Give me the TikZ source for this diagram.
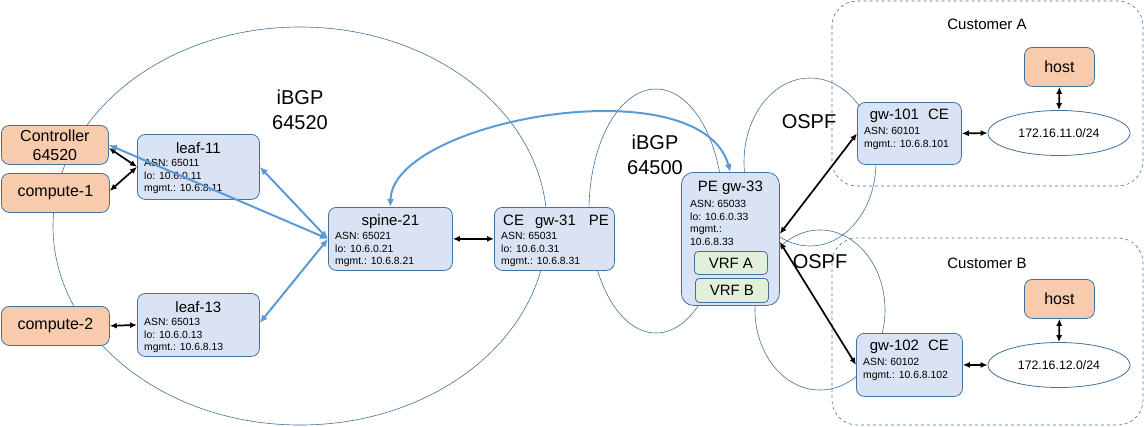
\documentclass[tikz,border=0pt]{standalone}
\usepackage{fontspec}
\setmainfont{Liberation Sans}
\usetikzlibrary{arrows.meta,calc,shapes.geometric}
\definecolor{bord}{RGB}{65,113,156}
\definecolor{bluefill}{RGB}{218,227,243}
\definecolor{orfill}{RGB}{248,203,173}
\definecolor{grfill}{RGB}{226,240,217}
\definecolor{blueln}{RGB}{91,155,213}
\begin{document}
\begin{tikzpicture}[x=1pt,y=-1pt,
 box/.style={draw=bord,line width=0.8pt,rounded corners=8pt,inner sep=0pt,anchor=north west},
 dev/.style={box,fill=bluefill},
 ext/.style={box,fill=orfill,align=center,font=\fontsize{16}{19}\selectfont},
 vrf/.style={box,fill=grfill,rounded corners=4pt,font=\fontsize{15}{18}\selectfont},
 ttl/.style={inner sep=0pt,font=\fontsize{15}{18}\selectfont},
 info/.style={inner sep=0pt,anchor=north west,align=left,font=\fontsize{10.4}{12.6}\selectfont},
 area/.style={draw=bord,line width=0.6pt},
 lan/.style={ellipse,draw=bord,line width=0.8pt,fill=white,minimum width=142pt,minimum height=45pt,inner sep=0pt,font=\fontsize{12.3}{15}\selectfont},
 big/.style={inner sep=0pt,align=center,font=\fontsize{20}{25}\selectfont},
 cust/.style={inner sep=0pt,font=\fontsize{15}{18}\selectfont},
 biarr/.style={{Latex[length=7pt,width=6pt]}-{Latex[length=7pt,width=6pt]},line width=1.7pt},
 bluearr/.style={{Latex[length=8pt,width=7pt]}-{Latex[length=8pt,width=7pt]},line width=2pt,draw=blueln},
]
\useasboundingbox (0,0) rectangle (1144,426);

% areas
\draw[area] (300,226) ellipse [x radius=247, y radius=199];
\draw[area] (656,211) ellipse [x radius=67, y radius=122];
\draw[area] (810,162) ellipse [x radius=66, y radius=84];
\draw[area] (820,310) ellipse [x radius=65, y radius=80];
\draw[area,dashed,rounded corners=25pt] (832,1) rectangle (1143,186);
\draw[area,dashed,rounded corners=25pt] (832,238) rectangle (1143,425);

% labels
\node[big] (l64520) at (300,110) {iBGP\\64520};
\node[big] (l64500) at (655,155) {iBGP\\64500};
\node[big] (ospfa) at (809,122) {OSPF};
\node[big] (ospfb) at (820,262) {OSPF};
\node[cust] (custa) at (987,24) {Customer A};
\node[cust] (custb) at (987,263) {Customer B};

% external boxes
\node[ext,minimum width=107pt,minimum height=39pt] (ctrl) at (1,125) {Controller\\64520};
\node[ext,minimum width=108pt,minimum height=39pt] (comp1) at (1,173) {compute-1};
\node[ext,minimum width=108pt,minimum height=39pt] (comp2) at (1,306) {compute-2};
\node[ext,minimum width=70pt,minimum height=39pt] (hosta) at (1024,47) {host};
\node[ext,minimum width=70pt,minimum height=39pt] (hostb) at (1024,279) {host};

% devices
\node[dev,minimum width=122pt,minimum height=65pt] (leaf11) at (137,134) {};
\node[ttl] (t11) at ($(leaf11.north)+(0,14)$) {leaf-11};
\node[info] (i11) at ($(leaf11.north west)+(7,25)$) {ASN: 65011\\lo: 10.6.0.11\\mgmt.: 10.6.8.11};

\node[dev,minimum width=122pt,minimum height=63pt] (leaf13) at (137,293) {};
\node[ttl] (t13) at ($(leaf13.north)+(0,14)$) {leaf-13};
\node[info] (i13) at ($(leaf13.north west)+(7,25)$) {ASN: 65013\\lo: 10.6.0.13\\mgmt.: 10.6.8.13};

\node[dev,minimum width=124pt,minimum height=63pt] (spine) at (328,207) {};
\node[ttl] (t21) at ($(spine.north)+(0,15)$) {spine-21};
\node[info] (i21) at ($(spine.north west)+(7,25)$) {ASN: 65021\\lo: 10.6.0.21\\mgmt.: 10.6.8.21};

\node[dev,minimum width=120pt,minimum height=63pt] (gw31) at (494,207) {};
\node[ttl,anchor=west] (t31) at ($(gw31.north west)+(9,15)$) {CE\hspace{11pt}gw-31\hspace{13pt}PE};
\node[info] (i31) at ($(gw31.north west)+(7,25)$) {ASN: 65031\\lo: 10.6.0.31\\mgmt.: 10.6.8.31};

\node[dev,rounded corners=12pt,minimum width=98pt,minimum height=133pt] (gw33) at (681,172) {};
\node[ttl] (t33) at ($(gw33.north)+(0,16)$) {PE gw-33};
\node[info] (i33) at ($(gw33.north west)+(9,28)$) {ASN: 65033\\lo: 10.6.0.33\\mgmt.:\\10.6.8.33};
\node[vrf,minimum width=73pt,minimum height=23pt] (vrfa) at (694,251) {VRF A};
\node[vrf,minimum width=73pt,minimum height=24pt] (vrfb) at (695,278) {VRF B};

\node[dev,minimum width=104pt,minimum height=62pt] (gw101) at (857,102) {};
\node[ttl] (t101) at ($(gw101.north)+(0,14)$) {gw-101\hspace{9pt}CE};
\node[info] (i101) at ($(gw101.north west)+(7,25)$) {ASN: 60101\\mgmt.: 10.6.8.101};

\node[dev,minimum width=106pt,minimum height=63pt] (gw102) at (856,333) {};
\node[ttl] (t102) at ($(gw102.north)+(0,14)$) {gw-102\hspace{9pt}CE};
\node[info] (i102) at ($(gw102.north west)+(7,25)$) {ASN: 60102\\mgmt.: 10.6.8.102};

\node[lan] (lana) at (1059,133) {172.16.11.0/24};
\node[lan] (lanb) at (1059,365) {172.16.12.0/24};

% connectors
\draw[biarr] ($(ctrl.east)+(0,3)$) -- (leaf11.west);
\draw[biarr] ($(comp1.east)+(0,-2)$) -- (leaf11.west);
\draw[biarr] (comp2.east) -- (leaf13.west);
\draw[bluearr] (ctrl.east) -- (spine.west);
\draw[bluearr] (leaf11.east) -- (spine.west);
\draw[bluearr] ($(leaf13.east)+(0,-2)$) -- (spine.west);
\draw[biarr] (spine.east) -- (gw31.west);
\draw[bluearr] (spine.north) .. controls (392,120) and (700,65) .. (gw33.north);
\draw[biarr] ($(gw33.east)+(0,-5)$) -- (gw101.west);
\draw[biarr] ($(gw33.east)+(0,3)$) -- (gw102.west);
\draw[biarr] (gw101.east) -- (lana.west);
\draw[biarr] (gw102.east) -- (lanb.west);
\draw[biarr] (hosta.south) -- (lana.north);
\draw[biarr] (hostb.south) -- (lanb.north);
\end{tikzpicture}
\end{document}
